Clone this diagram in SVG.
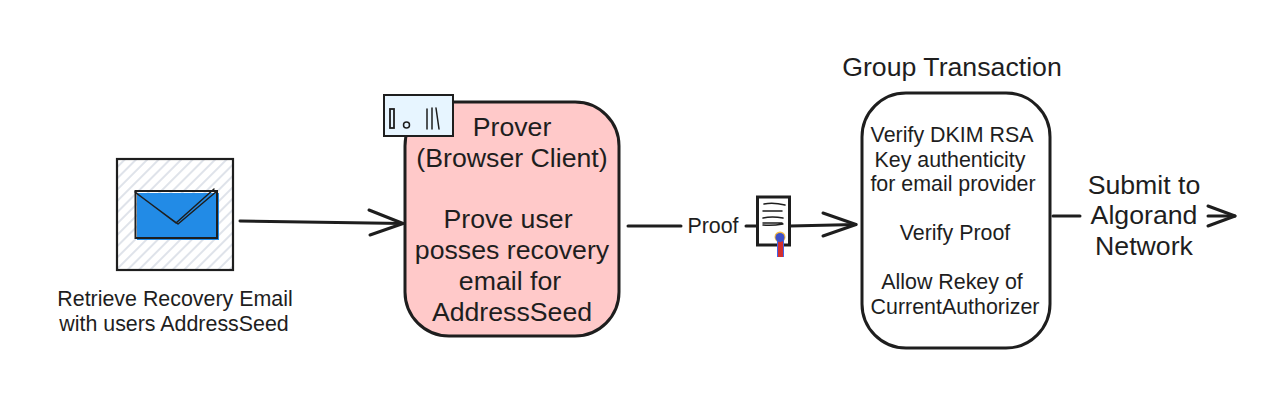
<svg xmlns="http://www.w3.org/2000/svg" width="1288" height="416" viewBox="0 0 1288 416">
<style>
text{font-family:"Liberation Sans",Arial,sans-serif;fill:#1e1e1e;text-anchor:middle}
.big{font-size:26.700px}
.mid{font-size:21.400px}
.ln{fill:none;stroke:#1e1e1e;stroke-width:3;stroke-linecap:round;stroke-linejoin:round}
.thin{fill:none;stroke:#1e1e1e;stroke-width:1.500;stroke-linecap:round}
</style>
<defs>
<pattern id="hatch" width="8" height="8" patternUnits="userSpaceOnUse" patternTransform="rotate(45)">
<rect width="8" height="8" fill="#fff"/><rect x="0" width="2" height="8" fill="#dfe3ea"/>
</pattern>
</defs>
<rect width="1288" height="416" fill="#fff"/>
<g id="connectors">
<path class="ln" d="M240 221 L403 223.500"/>
<path class="ln" d="M369 210 L403 223.500 L370 235"/>
<path class="ln" d="M628 226 L681 226"/>
<path class="ln" d="M746 226 L757 226"/>
<path class="ln" d="M790 226 L856 224.500"/>
<path class="ln" d="M823 213 L856 224.500 L823 236"/>
<path class="ln" d="M1053 216 L1080 216"/>
<path class="ln" d="M1208 206 L1235 216 L1208 226"/>
<path class="ln" d="M1208 216 L1235 216"/>
</g>
<g id="email">
<rect x="117" y="159" width="116" height="111" fill="url(#hatch)" stroke="#1e1e1e" stroke-width="2.200"/>
<rect x="137" y="193" width="82" height="47" fill="#228be6"/>
<rect x="135.500" y="191" width="81.500" height="47" fill="none" stroke="#1e1e1e" stroke-width="2"/>
<path class="ln" style="stroke-width:1.500" d="M135 192 L176 223 L214 189 M136 193 L178 224 L217 191"/>
<text class="mid" x="175" y="306">Retrieve Recovery Email</text>
<text class="mid" x="174" y="331">with users AddressSeed</text>
</g>
<g id="prover">
<rect x="405" y="102" width="214" height="234" rx="44" fill="#ffc9c9" stroke="#1e1e1e" stroke-width="3"/>
<text class="big" x="512" y="136">Prover</text>
<text class="big" x="512" y="167">(Browser Client)</text>
<text class="big" x="508" y="228">Prove user</text>
<text class="big" x="512" y="259">posses recovery</text>
<text class="big" x="510" y="290">email for</text>
<text class="big" x="512" y="321">AddressSeed</text>
</g>
<g id="server">
<rect x="384" y="95" width="69" height="41" fill="#e7f5ff" stroke="#1e1e1e" stroke-width="2"/>
<rect x="390" y="109" width="4" height="19" fill="none" stroke="#1e1e1e" stroke-width="1.800"/>
<circle cx="406.500" cy="125" r="3" fill="none" stroke="#1e1e1e" stroke-width="1.500"/>
<path class="thin" d="M427 109 L427 129 M432 108 L432 129 M436 108 L439 129"/>
</g>
<g id="proof-label">
<text class="mid" x="713" y="233">Proof</text>
</g>
<g id="certificate">
<rect x="757.500" y="197" width="32" height="48" fill="#fff" stroke="#1e1e1e" stroke-width="3"/>
<path class="thin" d="M764 204 Q773 202 785 205 M763 211 L782 211 M763 218 Q772 216 783 218 M763 223 L782 223 M763 225 Q772 226 783 224"/>
<circle cx="780" cy="237" r="5.500" fill="#f5b942"/>
<rect x="777" y="240" width="7" height="17" fill="#4263eb"/>
<rect x="778" y="241" width="5" height="16" fill="#d32f2f"/>
<circle cx="780" cy="237.500" r="4.500" fill="#3f51c8"/>
</g>
<g id="group-transaction">
<text class="big" x="952" y="76">Group Transaction</text>
<rect x="862" y="93" width="188" height="255" rx="44" fill="#fff" stroke="#1e1e1e" stroke-width="3"/>
<text class="mid" x="952" y="142">Verify DKIM RSA</text>
<text class="mid" x="950" y="167">Key authenticity</text>
<text class="mid" x="953" y="191">for email provider</text>
<text class="mid" x="955" y="240">Verify Proof</text>
<text class="mid" x="952" y="289">Allow Rekey of</text>
<text class="mid" x="955" y="314">CurrentAuthorizer</text>
</g>
<g id="submit">
<text class="big" x="1144" y="194">Submit to</text>
<text class="big" x="1144" y="224">Algorand</text>
<text class="big" x="1144" y="255">Network</text>
</g>
</svg>
